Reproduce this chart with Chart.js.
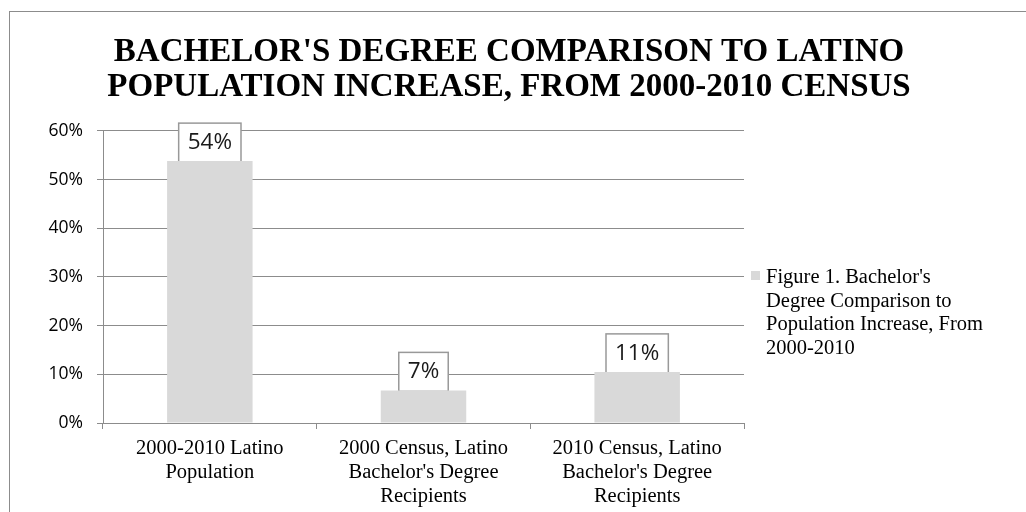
<!DOCTYPE html>
<html>
<head>
<meta charset="utf-8">
<script src="https://cdn.jsdelivr.net/npm/chart.js@4.4.0/dist/chart.umd.min.js"></script>
<style>
  html, body { margin: 0; padding: 0; background: #fff; }
  #wrap { width: 1026px; height: 512px; }
</style>
</head>
<body>
<div id="wrap"><canvas id="degreeChart" width="1026" height="512"></canvas></div>
<script>
var categories, shares, yTickLabels, titleLines, seriesLabelLines;
var chart, ctx, frame, valueBoxes, sideLegend;

categories = [
  ['2000-2010 Latino', 'Population'],
  ['2000 Census, Latino', "Bachelor's Degree", 'Recipients'],
  ['2010 Census, Latino', "Bachelor's Degree", 'Recipients']
];

shares = [0.538, 0.067, 0.105];

yTickLabels = ['0%', '10%', '20%', '30%', '40%', '50%', '60%'];

titleLines = [
  "BACHELOR'S DEGREE COMPARISON TO LATINO",
  'POPULATION INCREASE, FROM 2000-2010 CENSUS'
];

seriesLabelLines = [
  "Figure 1. Bachelor's",
  'Degree Comparison to',
  'Population Increase, From',
  '2000-2010'
];

// white page plus the outer chart border (runs off the right and bottom edge)
frame = {
  id: 'frame',
  beforeDraw: function(c) {
    var g = c.ctx;
    g.save();
    g.fillStyle = '#fff';
    g.fillRect(0, 0, c.width, c.height);
    g.strokeStyle = '#8c8c8c';
    g.lineWidth = 1;
    g.strokeRect(9.5, 11.5, 1100, 600);
    g.restore();
  }
};

// boxed percentage labels sitting on top of each bar
valueBoxes = {
  id: 'valueBoxes',
  beforeDatasetsDraw: function(c) {
    var g = c.ctx, meta = c.getDatasetMeta(0);
    g.save();
    g.font = '22.5px "Open Sans"';
    meta.data.forEach(function(bar, i) {
      var txt = Math.round(shares[i] * 100) + '%';
      var w = g.measureText(txt).width + 18, h = 39;
      var bottom = bar.y + 1;
      g.fillStyle = '#fff';
      g.fillRect(bar.x - w / 2, bottom - h, w, h);
      g.strokeStyle = '#999';
      g.lineWidth = 1.5;
      g.strokeRect(bar.x - w / 2, bottom - h, w, h);
    });
    g.restore();
  },
  afterDatasetsDraw: function(c) {
    var g = c.ctx, meta = c.getDatasetMeta(0);
    g.save();
    g.font = '22.5px "Open Sans"';
    g.fillStyle = '#1a1a1a';
    g.textAlign = 'center';
    g.textBaseline = 'middle';
    meta.data.forEach(function(bar, i) {
      g.fillText(Math.round(shares[i] * 100) + '%', bar.x, bar.y + 1 - 19.5);
    });
    g.restore();
  }
};

// legend on the right, wrapped over several lines
sideLegend = {
  id: 'sideLegend',
  afterDraw: function(c) {
    var g = c.ctx, ds = c.data.datasets[0];
    var x = c.chartArea.right + 7, y = 271;
    g.save();
    g.fillStyle = ds.backgroundColor;
    g.fillRect(x, y, 9, 9);
    g.fillStyle = '#000';
    g.font = '20.5px "Liberation Serif"';
    g.textBaseline = 'alphabetic';
    seriesLabelLines.forEach(function(line, i) {
      g.fillText(line, x + 15, 283 + i * 23.5);
    });
    g.restore();
  }
};

ctx = document.getElementById('degreeChart').getContext('2d');

chart = new Chart(ctx, {
  type: 'bar',
  data: {
    labels: categories,
    datasets: [
      {
        label: seriesLabelLines.join(' '),
        data: shares,
        backgroundColor: '#d9d9d9',
        borderWidth: 0,
        categoryPercentage: 1,
        barPercentage: 0.4
      }
    ]
  },
  options: {
    responsive: false,
    animation: false,
    devicePixelRatio: 1,
    layout: {
      padding: { left: 0, right: 8, top: 0, bottom: 0 }
    },
    plugins: {
      legend: { display: false },
      tooltip: { enabled: false },
      title: {
        display: true,
        text: titleLines,
        color: '#000',
        font: { family: 'Liberation Serif', size: 33, weight: 'bold', lineHeight: 1.09 },
        padding: { top: 34, bottom: 25 }
      }
    },
    scales: {
      x: {
        ticks: {
          color: '#000',
          font: { family: 'Liberation Serif', size: 20.5, lineHeight: 1.17 },
          padding: 8,
          maxRotation: 0,
          autoSkip: false
        },
        grid: { drawOnChartArea: false, drawTicks: true, tickLength: 6, color: '#8c8c8c', offset: true },
        border: { color: '#8c8c8c', width: 1 },
        afterFit: function(s) { s.height = 89; }
      },
      y: {
        min: 0,
        max: 0.6,
        ticks: {
          stepSize: 0.1,
          padding: 14,
          color: '#000',
          font: { family: 'Open Sans', size: 17.5 },
          callback: function(v) { return yTickLabels[Math.round(v * 10)]; }
        },
        grid: { color: '#8c8c8c', lineWidth: 1, tickLength: 6 },
        border: { color: '#8c8c8c', width: 1 },
        afterFit: function(s) { s.width = 103; }
      },
      spacer: {
        type: 'linear',
        position: 'right',
        display: true,
        grid: { display: false },
        ticks: { display: false },
        border: { display: false },
        afterFit: function(s) { s.width = 274; }
      }
    }
  },
  plugins: [frame, valueBoxes, sideLegend]
});
</script>
</body>
</html>
